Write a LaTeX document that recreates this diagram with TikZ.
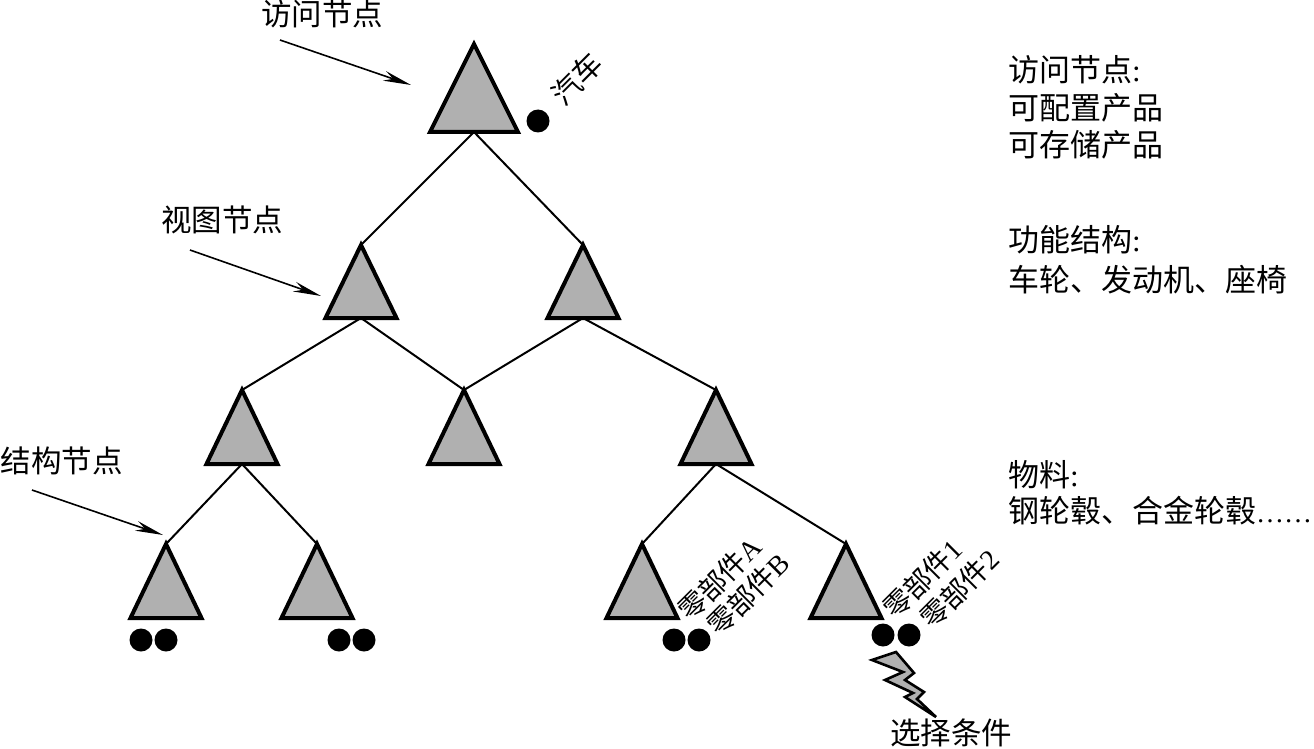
\documentclass[tikz,border=0pt]{standalone}
\usepackage{fontspec}
\setmainfont{Noto Sans CJK SC}
\newfontfamily\lat{Liberation Serif}
\usetikzlibrary{arrows.meta}
\definecolor{fillgray}{HTML}{B0B0B0}
\tikzset{x=1pt,y=-1pt,
  tribox/.style={draw=black,fill=fillgray,line width=4pt,line join=miter,miter limit=10},
  link/.style={draw=black,line width=2pt},
  pointer/.style={draw=black,line width=1.6pt,-{Stealth[length=28pt,width=10pt]}},
  dot/.style={circle,fill=black,inner sep=0pt,minimum size=23pt},
  lbl/.style={font=\fontsize{30.5}{30.5}\selectfont,inner sep=0pt},
  side/.style={font=\fontsize{31}{31}\selectfont,inner sep=0pt,anchor=west},
  rot/.style={font=\fontsize{28}{28}\selectfont,inner sep=0pt,rotate=45,anchor=south west}
}
% name, apex x, apex y, half width, height
\newcommand{\tri}[5]{%
  \coordinate (#1) at (#2,#3);
  \coordinate (#1b) at (#2,#3+#5);
  \draw[tribox] (#2,#3) -- (#2+#4,#3+#5) -- (#2-#4,#3+#5) -- cycle;
}
\begin{document}
\begin{tikzpicture}
\useasboundingbox (0,0) rectangle (1314,749);
\tri{t}{474}{44}{44}{88}
\tri{a}{361}{245}{35.5}{73}
\tri{b}{583}{245}{35.5}{73}
\tri{c}{242}{390}{35.5}{74}
\tri{d}{464}{390}{35.5}{74}
\tri{e}{716}{390}{35.5}{74}
\tri{f}{166}{544}{35.5}{74}
\tri{g}{317}{544}{35.5}{74}
\tri{h}{642}{544}{35.5}{74}
\tri{i}{846}{544}{35.5}{74}
\draw[link] (tb) -- (a);
\draw[link] (tb) -- (b);
\draw[link] (ab) -- (c);
\draw[link] (ab) -- (d);
\draw[link] (bb) -- (d);
\draw[link] (bb) -- (e);
\draw[link] (cb) -- (f);
\draw[link] (cb) -- (g);
\draw[link] (eb) -- (h);
\draw[link] (eb) -- (i);
% dots
\node[dot] (d0) at (538,121) {};
\node[dot] (d1) at (141,640) {};
\node[dot] (d2) at (166,640) {};
\node[dot] (d3) at (339,640) {};
\node[dot] (d4) at (364,640) {};
\node[dot] (d5) at (674,640) {};
\node[dot] (d6) at (699,640) {};
\node[dot] (d7) at (883,635) {};
\node[dot] (d8) at (909,635) {};
% bolt
\draw[tribox,line width=2.6pt] (872,660) -- (896,652) -- (914,673) -- (905,680) -- (924,692) -- (917,699) -- (936,717) -- (905,697) -- (913,693) -- (885,680) -- (903,672) -- cycle;
% labels
\node[lbl] (l1) at (322,14) {访问节点};
\node[lbl] (l2) at (222,220) {视图节点};
\node[lbl] (l3) at (62,461) {结构节点};
\node[lbl] (l4) at (951,733) {选择条件};
\coordinate (p1s) at (280,40);
\coordinate (p1e) at (411,85);
\coordinate (p2s) at (190,250);
\coordinate (p2e) at (321,296);
\coordinate (p3s) at (32,490);
\coordinate (p3e) at (163,535);
\draw[pointer] (p1s) -- (p1e);
\draw[pointer] (p2s) -- (p2e);
\draw[pointer] (p3s) -- (p3e);
\node[side] (s1) at (1008,70) {访问节点{\lat :}};
\node[side] (s2) at (1008,108) {可配置产品};
\node[side] (s3) at (1008,145) {可存储产品};
\node[side] (s4) at (1008,240) {功能结构{\lat :}};
\node[side] (s5) at (1008,280) {车轮、发动机、座椅};
\node[side] (s6) at (1008,475) {物料{\lat :}};
\node[side] (s7) at (1008,511) {钢轮毂、合金轮毂{\lat\fontsize{28}{28}\selectfont ……}};
\node[rot,font=\fontsize{29}{29}\selectfont] (r0) at (566,109) {汽车};
\node[rot] (r1) at (692,625) {零部件{\lat A}};
\node[rot] (r2) at (721,640) {零部件{\lat B}};
\node[rot] (r3) at (897,623) {零部件{\lat 1}};
\node[rot] (r4) at (934,633) {零部件{\lat 2}};
\end{tikzpicture}
\end{document}
